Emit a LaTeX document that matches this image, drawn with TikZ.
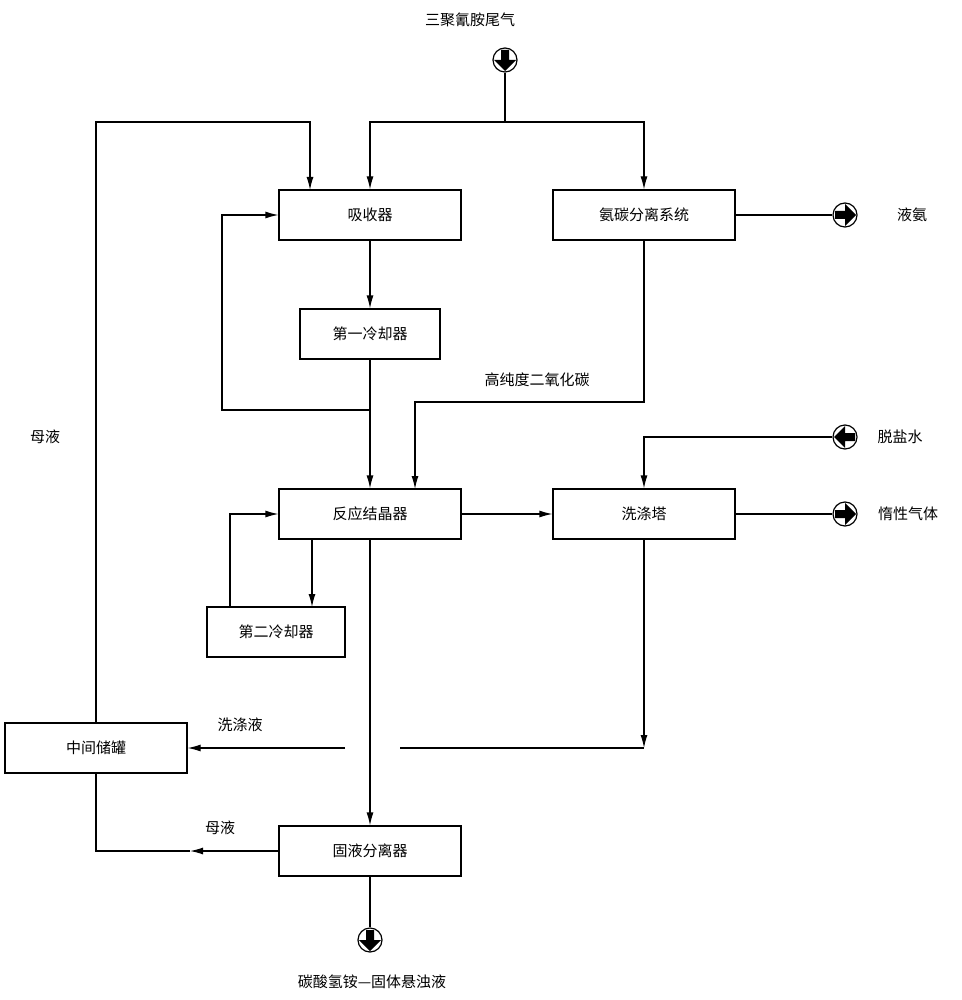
\documentclass[tikz,border=0pt]{standalone}
\usepackage{fontspec}
\setmainfont{Noto Sans CJK SC}
\usetikzlibrary{arrows.meta}
\tikzset{
  box/.style={draw,line width=1.2pt,minimum width=182pt,minimum height=50pt,inner sep=0pt,font=\fontsize{15}{15}\selectfont},
  term/.style={draw,line width=1.2pt,circle,minimum size=24pt,inner sep=0pt},
  lbl/.style={font=\fontsize{15}{15}\selectfont},
  line/.style={line width=1.2pt},
  flow/.style={line,-{Latex[length=13pt,width=7pt]}},
  pics/tip/.style={code={\fill (-10,-4) -- (0,-4) -- (0,-11) -- (11,0) -- (0,11) -- (0,4) -- (-10,4) -- cycle;}}
}
\begin{document}
\begin{tikzpicture}[x=1pt,y=-1pt]
\useasboundingbox (0,0) rectangle (961,1000);
% units
\node[box] (abs) at (370,215) {吸收器};
\node[box] (sep) at (644,215) {氨碳分离系统};
\node[box,minimum width=140pt] (cool1) at (370,334) {第一冷却器};
\node[box] (react) at (370,514) {反应结晶器};
\node[box] (wash) at (644,514) {洗涤塔};
\node[box,minimum width=138pt] (cool2) at (276,632) {第二冷却器};
\node[box] (tank) at (96,748) {中间储罐};
\node[box] (sl) at (370,851) {固液分离器};
% terminals
\node[term] (tin) at (505,60) {};
\node[term] (tnh3) at (845,215) {};
\node[term] (twat) at (845,437) {};
\node[term] (tgas) at (845,514) {};
\node[term] (tout) at (370,940) {};
\pic[rotate=-90] at (tin) {tip};
\pic at (tnh3) {tip};
\pic[rotate=180] at (twat) {tip};
\pic at (tgas) {tip};
\pic[rotate=-90] at (tout) {tip};
% labels
\node[lbl] at (470,20) {三聚氰胺尾气};
\node[lbl] at (912,215) {液氨};
\node[lbl] at (900,437) {脱盐水};
\node[lbl] at (908,514) {惰性气体};
\node[lbl] at (45,437) {母液};
\node[lbl] at (537,380) {高纯度二氧化碳};
\node[lbl] at (240,725) {洗涤液};
\node[lbl] at (220,828) {母液};
\node[lbl] at (372,982) {碳酸氢铵—固体悬浊液};
% feed gas
\coordinate (j1) at (505,122);
\draw[line] (tin) -- (j1);
\draw[flow] (j1) -| (abs.north);
\draw[flow] (j1) -| (sep.north);
\draw[flow] (tank.north) |- (310,122) -- (310,190);
\draw[flow] (abs) -- (cool1);
\draw[flow] (cool1) -- (react);
\draw[flow] (370,410) -| (222,215) -- (abs.west);
\draw[line] (sep.east) -- (tnh3);
\draw[flow] (sep.south) |- (415,402) -- (415,489);
% wash
\draw[flow] (twat) -| (wash.north);
\draw[line] (wash.east) -- (tgas);
\draw[flow] (react) -- (wash);
\draw[flow] (230,607) |- (react.west);
\draw[flow] (312,539) -- (312,607);
\draw[flow] (react.south) -- (sl.north);
\coordinate (w1) at (644,748);
\draw[flow] (wash.south) -- (w1);
\draw[line] (w1) -- (400,748);
\draw[flow] (345,748) -- (tank.east);
\draw[flow] (sl.west) -- (190,851);
\draw[line] (190,851) -| (tank.south);
\draw[line] (sl.south) -- (tout);
\end{tikzpicture}
\end{document}
